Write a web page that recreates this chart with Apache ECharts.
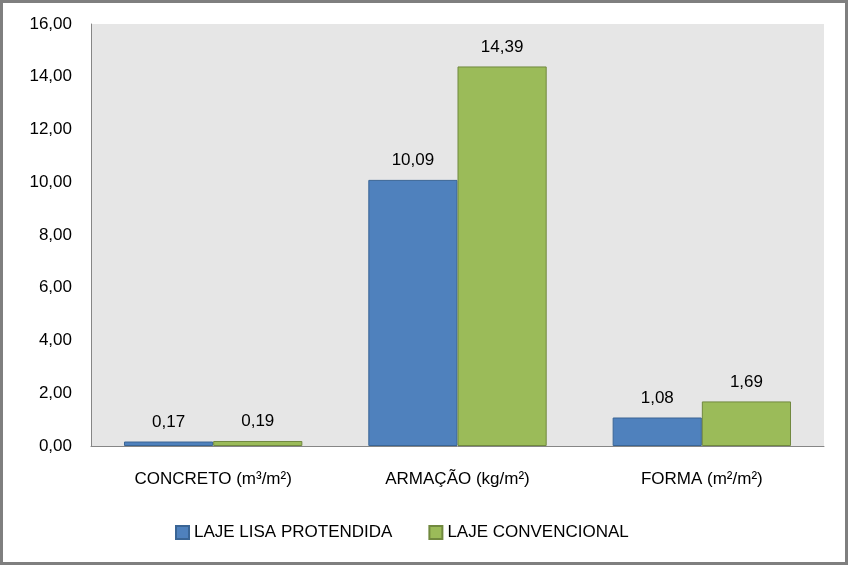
<!DOCTYPE html>
<html><head><meta charset="utf-8">
<script src="https://cdn.jsdelivr.net/npm/echarts@6/dist/echarts.min.js"></script>
<style>
html,body{margin:0;padding:0;background:#fff;}
#c{width:848px;height:565px;box-sizing:border-box;border:3px solid #7f7f7f;}
</style></head><body>
<div id="c"></div>
<script>
const categories = ['CONCRETO (m³/m²)', 'ARMAÇÃO (kg/m²)', 'FORMA (m²/m²)'];
const lajeLisa = [0.17, 10.09, 1.08];
const lajeConvencional = [0.19, 14.39, 1.69];
const seriesNames = ['LAJE LISA PROTENDIDA', 'LAJE CONVENCIONAL'];
const yTicks = {min: 0, max: 16, interval: 2};

const fmt = v => Number(v).toFixed(2).replace('.', ',');
const FONT = 'Liberation Sans';
const FS = 17;
const chart = echarts.init(document.getElementById('c'), null, {renderer: 'canvas'});
chart.setOption({
  animation: false,
  textStyle: {fontFamily: FONT},
  grid: {left: 88, top: 21, right: 21, bottom: 116, show: true, backgroundColor: '#e6e6e6', borderWidth: 0},
  legend: {
    bottom: 16, left: 167, itemWidth: 13, itemHeight: 13, itemGap: 36,
    icon: 'rect',
    textStyle: {fontSize: 17, color: '#000', fontFamily: FONT},
    data: seriesNames
  },
  xAxis: {
    type: 'category', data: categories,
    axisLine: {lineStyle: {color: '#868686', width: 1}},
    axisTick: {show: false},
    axisLabel: {fontSize: FS, color: '#000', margin: 25, fontFamily: FONT}
  },
  yAxis: {
    type: 'value', min: yTicks.min, max: yTicks.max, interval: yTicks.interval,
    axisLine: {show: true, lineStyle: {color: '#868686'}},
    axisTick: {show: false},
    splitLine: {show: false},
    axisLabel: {fontSize: FS, color: '#000', margin: 19, formatter: fmt, fontFamily: FONT}
  },
  series: [
    {name: seriesNames[0], type: 'bar', data: lajeLisa, barGap: '0%', barCategoryGap: '27%',
     itemStyle: {color: '#4f81bd', borderColor: '#3a6595', borderWidth: 1},
     label: {show: true, position: 'top', distance: 11, fontSize: FS, color: '#000', formatter: p => fmt(p.value), fontFamily: FONT}},
    {name: seriesNames[1], type: 'bar', data: lajeConvencional, barGap: '0%', barCategoryGap: '27%',
     itemStyle: {color: '#9bbb59', borderColor: '#71893f', borderWidth: 1},
     label: {show: true, position: 'top', distance: 11, fontSize: FS, color: '#000', formatter: p => fmt(p.value), fontFamily: FONT}}
  ]
});
</script>
</body></html>
